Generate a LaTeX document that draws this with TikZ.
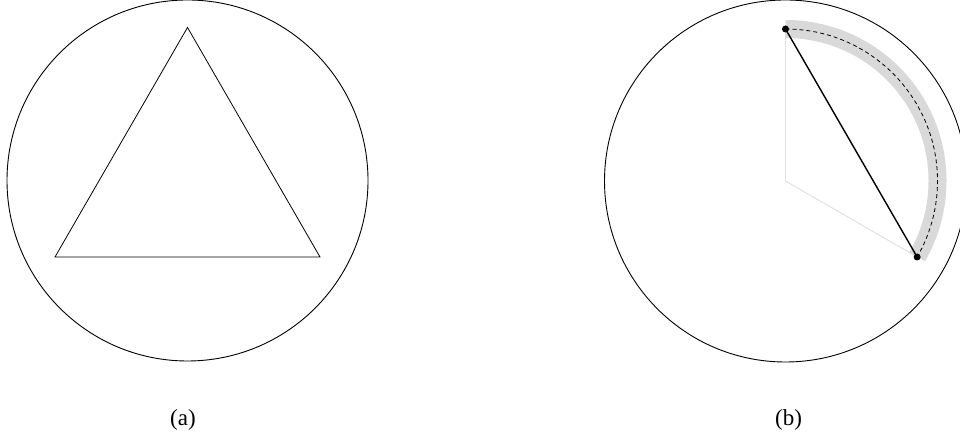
\documentclass[tikz,border=0pt]{standalone}
\usepackage{fontspec}
\setmainfont{Liberation Serif}
\begin{document}
\begin{tikzpicture}[x=1pt,y=1pt,
  rim/.style={line width=0.9pt},
  tri/.style={line width=0.8pt, line join=miter},
  radius line/.style={black!12, line width=0.9pt},
  band/.style={black!15, line width=18pt},
  guide/.style={line width=0.8pt, dash pattern=on 4pt off 3pt},
  chord/.style={line width=1.4pt},
  dot/.style={circle, fill=black, inner sep=0pt, minimum size=7pt},
  caption/.style={font=\fontsize{23}{27}\selectfont, anchor=base}]
\useasboundingbox (0,0) rectangle (960,438);
\clip (0,0) rectangle (960,438);
% (a)
\coordinate (ca) at (187.5,257.5);
\draw[rim] (ca) circle[radius=180.5];
\path (ca) ++(90:153) coordinate (ta);
\path (ca) ++(210:153) coordinate (tb);
\path (ca) ++(330:153) coordinate (tc);
\draw[tri] (ta) -- (tb) -- (tc) -- cycle;
\node[caption] (la) at (183,12.4) {(a)};
% (b)
\coordinate (cb) at (785.5,257);
\draw[rim] (cb) circle[radius=181];
\path (cb) ++(90:152) coordinate (pa);
\path (cb) ++(-30:152) coordinate (pb);
\draw[radius line] (pa) -- (cb) -- (pb);
\draw[band] (pa) arc[start angle=90, end angle=-30, radius=152];
\draw[guide] (pa) arc[start angle=90, end angle=-30, radius=152];
\draw[chord] (pa) -- (pb);
\node[dot] (da) at (pa) {};
\node[dot] (db) at (pb) {};
\node[caption] (lb) at (788.5,12.4) {(b)};
\end{tikzpicture}
\end{document}
